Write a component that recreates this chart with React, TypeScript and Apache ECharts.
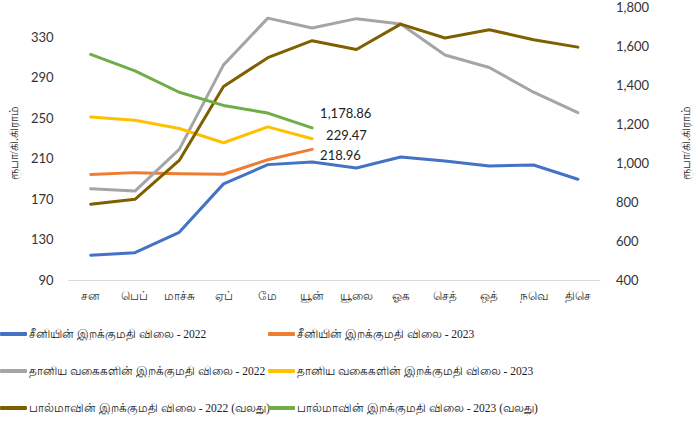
import React, { useEffect, useRef } from "react";
import * as echarts from "echarts";

const months = ["சன", "பெப்", "மாச்சு", "ஏப்", "மே", "யூன்", "யூலை", "ஓக", "செத்", "ஒத்", "நவெ", "திசெ"];

const sugar2022 = [114.4, 117.0, 137.1, 184.9, 203.9, 206.4, 200.5, 211.5, 207.5, 202.5, 203.5, 189.5];
const sugar2023 = [194.1, 196.0, 195.0, 194.4, 208.7, 218.96];
const grain2022 = [180.0, 177.8, 219.0, 302.4, 348.5, 338.8, 348.0, 342.7, 312.1, 299.8, 275.4, 255.2];
const grain2023 = [251.0, 247.8, 239.6, 225.5, 241.2, 229.47];
const milk2022 = [788, 813, 1012, 1390, 1538, 1625, 1580, 1710, 1639, 1681, 1630, 1592];
const milk2023 = [1554.5, 1470.6, 1361, 1293.6, 1254.6, 1178.86];

const seriesNames = [
  "சீனியின் இறக்குமதி விலை - 2022",
  "சீனியின் இறக்குமதி விலை - 2023",
  "தானிய வகைகளின் இறக்குமதி விலை - 2022",
  "தானிய வகைகளின் இறக்குமதி விலை - 2023",
  "பால்மாவின் இறக்குமதி விலை - 2022 (வலது)",
  "பால்மாவின் இறக்குமதி விலை - 2023 (வலது)",
];
const colors = ["#4472C4", "#ED7D31", "#A5A5A5", "#FFC000", "#7F6000", "#70AD47"];

const yName = "ரூபா/கி.கிராம்";

export default function App() {
  const ref = useRef<HTMLDivElement>(null);
  useEffect(() => {
    document.body.style.margin = "0";
    const chart = echarts.init(ref.current!, null, { renderer: "svg" });
    const fmt = (v: number) => v.toLocaleString("en-US", { minimumFractionDigits: 2 });
    const lineBase = (i: number) => ({
      type: "line",
      name: seriesNames[i],
      showSymbol: false,
      lineStyle: { width: 3, color: colors[i], cap: "round", join: "round" },
      itemStyle: { color: colors[i] },
    });
    const endLabel = (text: string, offset: number[]) => ({
      show: true,
      formatter: text,
      offset,
      distance: 5,
      color: "#222",
      fontFamily: "Lato",
      fontSize: 13,
    });
    const legendPos = [
      [0, 328],
      [268, 328],
      [0, 365],
      [268, 365],
      [0, 402],
      [268, 402],
    ];
    const legends = seriesNames.map((n, i) => ({
      left: legendPos[i][0],
      top: legendPos[i][1],
      padding: 0,
      itemWidth: 27,
      itemHeight: 4,
      icon: "roundRect",
      itemGap: 0,
      textStyle: { color: "#222", fontSize: 11.5, fontFamily: "Liberation Serif", padding: [0, 0, 0, -3] },
      data: [n],
    }));
    chart.setOption({
      animation: false,
      textStyle: { fontFamily: "Lato" },
      grid: { left: 58, right: 97, top: 3, bottom: 141 },
      xAxis: {
        type: "category",
        data: months,
        boundaryGap: true,
        axisLine: { show: true, lineStyle: { color: "#d9d9d9", width: 1 } },
        axisTick: { show: false },
        axisLabel: { color: "#333", fontSize: 12, fontFamily: "Liberation Serif", margin: 10 },
      },
      yAxis: [
        {
          type: "value",
          min: 90,
          max: 360,
          interval: 40,
          name: yName,
          nameLocation: "middle",
          nameGap: 44,
          nameRotate: 90,
          nameTextStyle: { color: "#333", fontSize: 12, fontFamily: "Liberation Serif" },
          splitLine: { show: false },
          axisLine: { show: false },
          axisTick: { show: false },
          axisLabel: {
            color: "#333",
            fontSize: 13,
            fontFamily: "Lato",
            margin: 15,
            formatter: (v: number) => ((v - 90) % 40 === 0 ? String(v) : ""),
          },
        },
        {
          type: "value",
          min: 400,
          max: 1800,
          interval: 200,
          name: yName,
          nameLocation: "middle",
          nameGap: 80,
          nameRotate: 90,
          nameTextStyle: { color: "#333", fontSize: 12, fontFamily: "Liberation Serif" },
          splitLine: { show: false },
          axisLine: { show: false },
          axisTick: { show: false },
          axisLabel: {
            color: "#333",
            fontSize: 13,
            fontFamily: "Lato",
            margin: 16,
            formatter: (v: number) => v.toLocaleString("en-US"),
          },
        },
      ],
      legend: legends,
      series: [
        { ...lineBase(0), yAxisIndex: 0, data: sugar2022 },
        { ...lineBase(1), yAxisIndex: 0, data: sugar2023, endLabel: endLabel(fmt(sugar2023[5]), [3, 6]) },
        { ...lineBase(2), yAxisIndex: 0, data: grain2022 },
        { ...lineBase(3), yAxisIndex: 0, data: grain2023, endLabel: endLabel(fmt(grain2023[5]), [9, -4]) },
        { ...lineBase(4), yAxisIndex: 1, data: milk2022 },
        { ...lineBase(5), yAxisIndex: 1, data: milk2023, endLabel: endLabel(fmt(milk2023[5]), [3, -15]) },
      ],
    });
    return () => chart.dispose();
  }, []);
  return <div ref={ref} style={{ width: 700, height: 421 }} />;
}
